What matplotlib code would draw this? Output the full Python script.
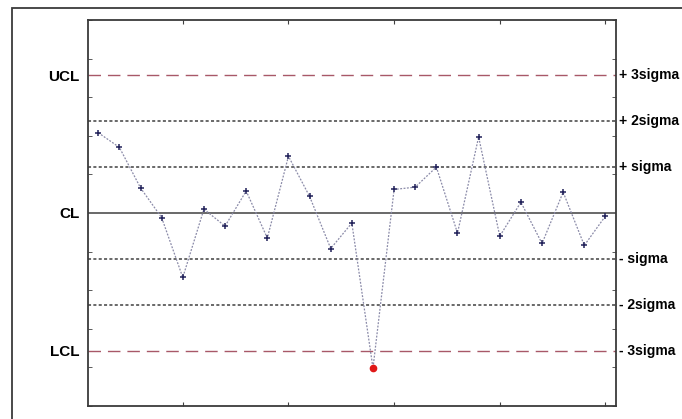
import numpy as np
import matplotlib
matplotlib.use('Agg')
import matplotlib.pyplot as plt
from matplotlib.patches import Rectangle

# sample number and measured values
samples = np.arange(1, 26)
values = [2.08, 1.70, 0.65, -0.12, -1.67, 0.10, -0.34, 0.57, -0.65, 1.47,
          0.43, -0.92, -0.26, -4.02, 0.61, 0.67, 1.19, -0.52, 1.97, -0.60,
          0.28, -0.79, 0.54, -0.84, -0.08]

CL = 0.0
SIGMA = 1.19

left_labels = ['UCL', 'CL', 'LCL']
right_labels = ['+ 3sigma', '+ 2sigma', '+ sigma', '- sigma', '- 2sigma', '- 3sigma']
x_ticks = [5, 10, 15, 20, 25]

plt.rcParams['font.family'] = ['Liberation Sans', 'DejaVu Sans']

values = np.array(values)
ucl = CL + 3 * SIGMA
lcl = CL - 3 * SIGMA

fig = plt.figure(figsize=(6.82, 4.19), dpi=100)
ax = fig.add_axes((0.1286, 0.031, 0.7746, 0.9213))

# outer frame
fig.add_artist(Rectangle((12 / 682, -0.05), 1.0, 1 - 8 / 419 + 0.05,
                         transform=fig.transFigure, fill=False,
                         edgecolor='#3a3a3a', linewidth=1.3))

# control limits
ax.axhline(ucl, color='#a85868', linewidth=1.0, linestyle=(0, (9, 5)))
ax.axhline(lcl, color='#a85868', linewidth=1.0, linestyle=(0, (9, 5)))
ax.axhline(CL, color='#404040', linewidth=1.1)
for k in [1, 2, -1, -2]:
    ax.axhline(CL + k * SIGMA, color='#404040', linewidth=1.1,
               linestyle=(0, (2, 1.5)))

# data
ax.plot(samples, values, color='#8a8aa8', linewidth=0.9, linestyle=(0, (1.5, 1.2)))
in_ctrl = (values >= lcl) & (values <= ucl)
ax.plot(samples[in_ctrl], values[in_ctrl], linestyle='none', marker='+',
        markersize=5, markeredgewidth=1.1, color='#22225a')
ax.plot(samples[~in_ctrl], values[~in_ctrl], linestyle='none', marker='o',
        markersize=4.5, color='#e01818')

ax.set_xlim(0.5, 25.5)
ax.set_ylim(CL - 5, CL + 5)

ax.set_xticks(x_ticks)
ax.set_xticklabels([])
ax.tick_params(axis='x', direction='in', length=3, top=True, bottom=True,
               color='#404040')

ax.set_yticks([ucl, CL, lcl])
ax.set_yticklabels(left_labels, fontsize=11, fontweight='bold')
ax.set_yticks(np.arange(-5, 6) + CL, minor=True)
ax.tick_params(axis='y', which='major', length=0, pad=6)
ax.tick_params(axis='y', which='minor', direction='in', length=3,
               left=True, right=True, color='#404040')

for k, lab in zip([3, 2, 1, -1, -2, -3], right_labels):
    ax.text(1.006, CL + k * SIGMA, lab, transform=ax.get_yaxis_transform(),
            fontsize=10, fontweight='bold', va='center', ha='left', clip_on=False)

for sp in ax.spines.values():
    sp.set_color('#3a3a3a')
    sp.set_linewidth(1.3)

plt.savefig('out.png', dpi=100)
plt.close()
